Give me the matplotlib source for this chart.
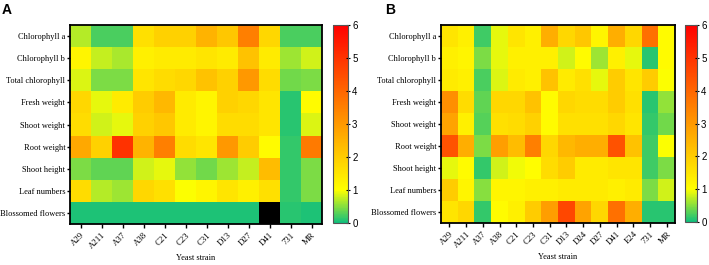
import numpy as np
import matplotlib.pyplot as plt
from matplotlib.colors import LinearSegmentedColormap

rows = ["Chlorophyll a", "Chlorophyll b", "Total chlorophyll", "Fresh weight",
        "Shoot weight", "Root weight", "Shoot height", "Leaf numbers",
        "Blossomed flowers"]

strains_a = ["A29", "A211", "A37", "A38", "C21", "C23", "C31", "D13", "D27",
             "D41", "731", "MR"]
strains_b = ["A29", "A211", "A37", "A38", "C21", "C23", "C31", "D13", "D24",
             "D27", "D41", "E24", "731", "MR"]

# panel A (nan = black cell)
vals_a = [
    [0.7, 0.25, 0.25, 1.6, 1.9, 1.9, 2.5, 2.1, 3.5, 1.8, 0.25, 0.25],
    [1.2, 0.75, 0.65, 1.3, 1.4, 1.4, 1.5, 1.4, 2.2, 1.4, 0.6, 0.8],
    [0.85, 0.45, 0.45, 1.5, 1.7, 1.8, 2.2, 1.9, 3.0, 1.7, 0.4, 0.45],
    [1.8, 0.9, 1.4, 2.0, 2.4, 1.4, 1.2, 1.9, 1.8, 1.5, 0.1, 1.1],
    [1.7, 0.8, 0.9, 1.9, 2.1, 1.4, 1.2, 1.7, 1.7, 1.5, 0.1, 0.85],
    [2.7, 1.9, 5.0, 2.5, 3.5, 1.7, 1.5, 3.0, 2.0, 1.1, 0.15, 3.6],
    [0.45, 0.35, 0.35, 0.8, 0.9, 0.55, 0.4, 0.6, 0.75, 2.3, 0.15, 0.45],
    [1.7, 0.7, 0.6, 1.8, 1.6, 1.0, 1.2, 1.5, 1.3, 1.6, 0.15, 0.45],
    [0.05, 0.05, 0.05, 0.05, 0.05, 0.05, 0.05, 0.05, 0.05, np.nan, 0.1, 0.05],
]

# panel B
vals_b = [
    [1.5, 1.3, 0.2, 0.9, 1.5, 1.3, 2.6, 1.8, 2.1, 1.2, 2.6, 1.8, 3.8, 1.1],
    [1.3, 1.2, 0.45, 0.9, 1.3, 1.3, 1.3, 0.8, 1.1, 0.6, 1.3, 0.9, 0.1, 1.1],
    [1.4, 1.3, 0.25, 0.85, 1.4, 1.3, 2.2, 1.4, 1.6, 0.9, 2.0, 1.5, 2.0, 1.0],
    [3.2, 1.7, 0.35, 1.8, 1.8, 2.2, 1.1, 1.8, 1.7, 1.7, 2.0, 1.6, 0.1, 0.55],
    [2.8, 1.3, 0.3, 1.6, 1.7, 1.9, 1.1, 1.6, 1.6, 1.6, 1.8, 1.5, 0.15, 0.4],
    [4.4, 2.6, 0.45, 2.9, 2.3, 3.5, 1.8, 2.4, 2.6, 2.6, 4.4, 2.2, 0.2, 1.0],
    [0.9, 1.1, 0.15, 0.8, 0.95, 1.05, 1.7, 2.0, 1.4, 1.4, 1.5, 1.5, 0.2, 0.45],
    [2.0, 1.2, 0.5, 1.2, 1.2, 1.3, 1.3, 1.4, 1.4, 1.4, 1.3, 1.4, 0.45, 0.8],
    [1.5, 1.8, 0.15, 1.1, 1.3, 2.0, 2.9, 4.6, 2.8, 1.8, 3.8, 2.6, 0.1, 0.1],
]

cmap = LinearSegmentedColormap.from_list(
    "gyr", [(0, "#12bf7c"), (1 / 6, "#ffff00"), (1, "#ff0000")])
cmap.set_bad("black")

fig = plt.figure(figsize=(7.09, 2.65), dpi=100)

serif = "Liberation Serif"
sans = "Liberation Sans"


def draw(ax, cax, data, cols):
    arr = np.ma.masked_invalid(np.array(data, dtype=float))
    im = ax.pcolormesh(arr, cmap=cmap, vmin=0, vmax=6)
    ax.set_xlim(0, len(cols))
    ax.set_ylim(len(rows), 0)
    ax.set_xticks(np.arange(len(cols)) + 0.5)
    ax.set_xticklabels(cols, rotation=45, ha="right", rotation_mode="anchor",
                       fontsize=6.3, family=serif)
    ax.set_yticks(np.arange(len(rows)) + 0.5)
    ax.set_yticklabels(rows, fontsize=6, family=serif)
    ax.tick_params(axis="y", length=2.5, width=1, pad=1)
    ax.tick_params(axis="x", length=3, width=1, pad=2)
    for s in ax.spines.values():
        s.set_linewidth(1.3)
    ax.set_xlabel("Yeast strain", fontsize=6, family=serif, labelpad=3)
    cb = fig.colorbar(im, cax=cax, ticks=range(7))
    cb.outline.set_linewidth(0.8)
    cb.outline.set_edgecolor("#555555")
    cax.tick_params(labelsize=7, length=3, width=0.8, pad=1.5,
                    direction="inout")
    for t in cax.get_yticklabels():
        t.set_family(sans)


ax_a = fig.add_axes([70 / 709, 41 / 265, 252 / 709, 199 / 265])
cax_a = fig.add_axes([333 / 709, 42 / 265, 15 / 709, 198 / 265])
ax_b = fig.add_axes([441 / 709, 42 / 265, 234 / 709, 198 / 265])
cax_b = fig.add_axes([685 / 709, 43 / 265, 12 / 709, 197 / 265])

draw(ax_a, cax_a, vals_a, strains_a)
draw(ax_b, cax_b, vals_b, strains_b)

fig.text(2 / 709, 1 - 10 / 265, "A", fontsize=10, fontweight="bold",
         family=sans, va="center")
fig.text(385 / 709, 1 - 10 / 265, "B", fontsize=10, fontweight="bold",
         family=sans, va="center")

fig.savefig("out.png", dpi=100)
